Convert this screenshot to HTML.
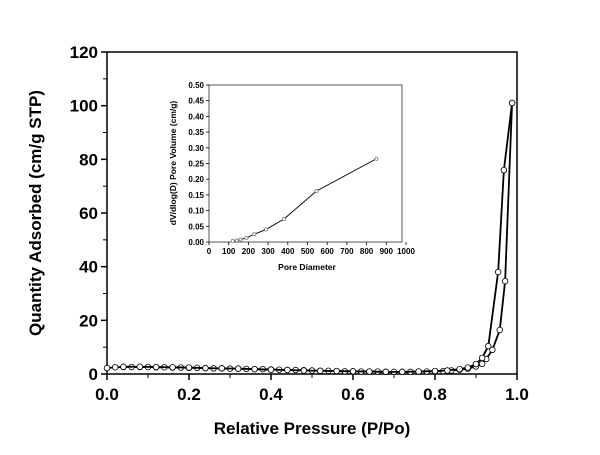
<!DOCTYPE html>
<html><head><meta charset="utf-8"><style>
body{margin:0;background:#fff;width:600px;height:450px;overflow:hidden;font-family:"Liberation Sans",Arial,sans-serif}
text{font-family:"Liberation Sans",Arial,sans-serif;font-weight:bold}
</style></head><body>
<svg id="c" width="600" height="450"></svg>
<script>
const adsP=[0.0,0.02,0.04,0.06,0.08,0.10,0.12,0.14,0.16,0.18,0.20,0.22,0.24,0.26,0.28,0.30,0.32,0.34,0.36,0.38,0.40,0.42,0.44,0.46,0.48,0.50,0.52,0.54,0.56,0.58,0.60,0.62,0.64,0.66,0.68,0.70,0.72,0.74,0.76,0.78,0.80,0.82,0.84,0.86,0.88,0.90,0.915,0.925,0.94,0.958,0.971,0.988];
const adsQ=[2.2,2.5,2.6,2.6,2.6,2.6,2.5,2.5,2.4,2.4,2.3,2.3,2.2,2.1,2.1,2.0,2.0,1.9,1.8,1.8,1.7,1.6,1.5,1.5,1.4,1.3,1.2,1.2,1.1,1.0,1.0,0.9,0.9,0.9,0.8,0.8,0.8,0.8,0.9,0.9,1.0,1.1,1.3,1.6,2.0,2.8,3.8,5.6,9,16.4,34.6,101];
const desP=[0.988,0.968,0.954,0.93,0.915,0.90,0.88,0.86,0.83,0.80,0.76,0.72,0.68,0.64,0.60,0.56,0.52,0.48,0.44,0.40,0.36,0.32,0.28,0.24,0.20,0.16,0.12,0.08,0.04];
const desQ=[101,76,38,10.4,6,3.7,2.4,1.8,1.3,1.1,0.9,0.8,0.8,0.9,1.0,1.1,1.2,1.3,1.5,1.6,1.8,2.0,2.1,2.2,2.4,2.5,2.6,2.7,2.7];
const xTicks=[0,0.2,0.4,0.6,0.8,1.0];
const yTicks=[0,20,40,60,80,100,120];
const inD=[120,140,160,190,230,290,380,545,850];
const inV=[0.003,0.005,0.008,0.013,0.025,0.04,0.073,0.162,0.265];
const inXT=[0,100,200,300,400,500,600,700,800,900,1000];
const inYT=[0,0.05,0.10,0.15,0.20,0.25,0.30,0.35,0.40,0.45,0.50];

const svg=document.getElementById('c');const NS='http://www.w3.org/2000/svg';
function mk(t,a,p){const e=document.createElementNS(NS,t);for(const k in a)e.setAttribute(k,a[k]);(p||svg).appendChild(e);return e;}
const X=v=>107+v*410, Y=v=>374-v*(322/120);
let fr=mk('rect',{x:107,y:52,width:410,height:322,fill:'none',stroke:'#000','stroke-width':1.5});


xTicks.forEach(v=>{mk('line',{x1:X(v),x2:X(v),y1:374,y2:380,stroke:'#000','stroke-width':1.5});
 let t=mk('text',{x:X(v),y:400,'text-anchor':'middle','font-size':17});t.textContent=v.toFixed(1);
 
 });
for(let v=0.1;v<1;v+=0.2)mk('line',{x1:X(v),x2:X(v),y1:374,y2:378,stroke:'#000','stroke-width':1});
yTicks.forEach(v=>{mk('line',{x1:101,x2:107,y1:Y(v),y2:Y(v),stroke:'#000','stroke-width':1.5});
 let t=mk('text',{x:98,y:Y(v)+6,'text-anchor':'end','font-size':17});t.textContent=v;
 
 });
for(let v=10;v<120;v+=20)mk('line',{x1:103,x2:107,y1:Y(v),y2:Y(v),stroke:'#000','stroke-width':1});
let xt=mk('text',{x:312,y:434,'text-anchor':'middle','font-size':17});xt.textContent='Relative Pressure (P/Po)';


let yt=mk('text',{x:0,y:0,'text-anchor':'middle','font-size':17,transform:'translate(41,213) rotate(-90)'});yt.textContent='Quantity Adsorbed (cm/g STP)';


function series(P,Q,name){const g=mk('g',{});
 mk('polyline',{points:P.map((p,i)=>X(p)+','+Y(Q[i])).join(' '),fill:'none',stroke:'#000','stroke-width':1.8},g);
 P.forEach((p,i)=>{const c=mk('circle',{cx:X(p),cy:Y(Q[i]),r:2.8,fill:'#fff',stroke:'#000','stroke-width':0.8},g);
 
 });}
series(adsP,adsQ,'adsorption-series');series(desP,desQ,'desorption-series');
// inset
const IX=v=>209+v*0.197, IY=v=>242-v*314;
let ifr=mk('rect',{x:209,y:85,width:193,height:157,fill:'none',stroke:'#555','stroke-width':1});


inXT.forEach(v=>{mk('line',{x1:IX(v),x2:IX(v),y1:242,y2:245,stroke:'#000','stroke-width':0.8});
 let t=mk('text',{x:IX(v),y:254,'text-anchor':'middle','font-size':8});t.textContent=v;
 
 });
inYT.forEach(v=>{mk('line',{x1:206,x2:209,y1:IY(v),y2:IY(v),stroke:'#000','stroke-width':0.8});
 let t=mk('text',{x:204,y:IY(v)+3,'text-anchor':'end','font-size':8});t.textContent=v.toFixed(2);
 
 });
let ixt=mk('text',{x:307,y:270,'text-anchor':'middle','font-size':8.5});ixt.textContent='Pore Diameter';


let iyt=mk('text',{x:0,y:0,'text-anchor':'middle','font-size':8.5,transform:'translate(176,163) rotate(-90)'});iyt.textContent='dV/dlog(D) Pore Volume (cm/g)';


const ig=mk('g',{});
mk('polyline',{points:inD.map((d,i)=>IX(d)+','+IY(inV[i])).join(' '),fill:'none',stroke:'#000','stroke-width':0.9},ig);
inD.forEach((d,i)=>{const c=mk('circle',{cx:IX(d),cy:IY(inV[i]),r:1.6,fill:'#fff',stroke:'#555','stroke-width':0.6},ig);
 
 });
</script>
</body></html>
